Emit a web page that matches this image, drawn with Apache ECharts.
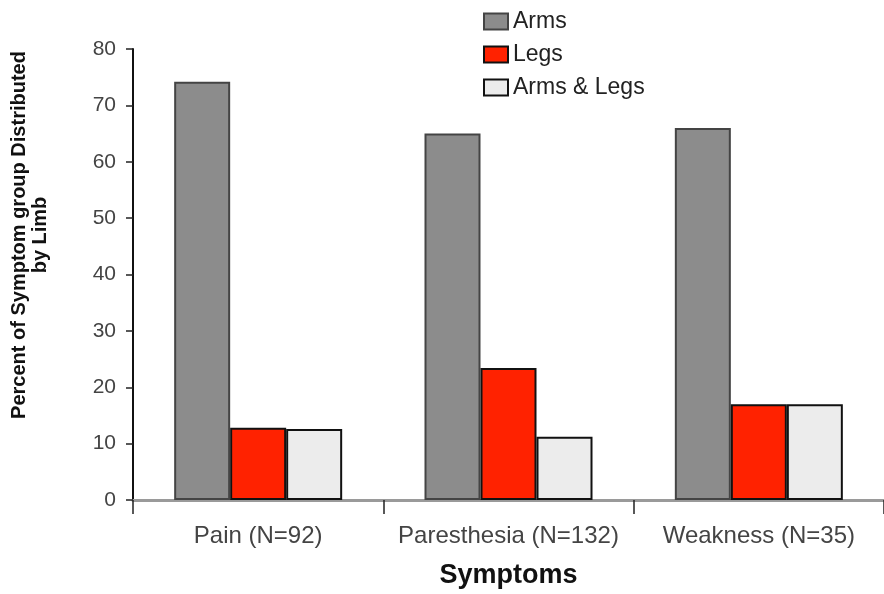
<!DOCTYPE html>
<html>
<head>
<meta charset="utf-8">
<script src="https://cdn.jsdelivr.net/npm/echarts@6/dist/echarts.min.js"></script>
<style>
  html, body { margin: 0; padding: 0; background: #fff; }
  #chart { width: 884px; height: 594px; }
</style>
</head>
<body>
<div id="chart"></div>
<script>
// categories and values
var symptoms = ['Pain (N=92)', 'Paresthesia (N=132)', 'Weakness (N=35)'];
var arms = [74.2, 65.0, 66.0];
var legs = [12.8, 23.4, 17.0];
var armsLegs = [12.6, 11.2, 17.0];
var seriesNames = ['Arms', 'Legs', 'Arms & Legs'];

var FONT = '"Liberation Sans", Arial, sans-serif';

var chart = echarts.init(document.getElementById('chart'), null, { renderer: 'canvas' });

function barSeries(name, data, color, border) {
  return {
    name: name,
    type: 'bar',
    data: data,
    barWidth: 56,
    barGap: '0%',
    itemStyle: {
      color: color,
      borderColor: border,
      borderWidth: 2
    }
  };
}

var option = {
  animation: false,
  backgroundColor: '#fff',
  textStyle: { fontFamily: FONT },
  legend: {
    orient: 'vertical',
    left: 483,
    top: 10,
    padding: 0,
    itemWidth: 24,
    itemHeight: 16,
    itemGap: 10,
    icon: 'rect',
    textStyle: { fontFamily: FONT, fontSize: 23, color: '#222' },
    data: seriesNames
  },
  grid: {
    left: 133,
    right: 0,
    top: 49,
    bottom: 94,
    containLabel: false
  },
  xAxis: {
    type: 'category',
    data: symptoms,
    name: 'Symptoms',
    nameLocation: 'middle',
    nameGap: 62,
    nameTextStyle: { fontFamily: FONT, fontSize: 27, fontWeight: 'bold', color: '#111' },
    axisLine: { lineStyle: { color: '#9a9a9a', width: 3 } },
    axisTick: { show: true, interval: 0, length: 14, lineStyle: { color: '#222', width: 1.5 } },
    axisLabel: { interval: 0, fontFamily: FONT, fontSize: 24, color: '#444', margin: 24 }
  },
  yAxis: {
    type: 'value',
    min: 0,
    max: 80,
    interval: 10,
    splitLine: { show: false },
    axisLine: { show: true, lineStyle: { color: '#111', width: 2 } },
    axisTick: { show: true, length: 7, lineStyle: { color: '#222', width: 1.5 } },
    axisLabel: { fontFamily: FONT, fontSize: 21, color: '#444', margin: 17 }
  },
  graphic: [
    {
      type: 'text',
      x: 30,
      y: 235,
      rotation: Math.PI / 2,
      style: {
        text: 'Percent of Symptom group Distributed\nby Limb',
        font: 'bold 20px ' + FONT,
        fill: '#111',
        align: 'center',
        verticalAlign: 'middle',
        lineHeight: 21
      }
    }
  ],
  series: [
    barSeries(seriesNames[0], arms, '#8c8c8c', '#444'),
    barSeries(seriesNames[1], legs, '#ff2200', '#111'),
    barSeries(seriesNames[2], armsLegs, '#ececec', '#111')
  ]
};

chart.setOption(option);
</script>
</body>
</html>
